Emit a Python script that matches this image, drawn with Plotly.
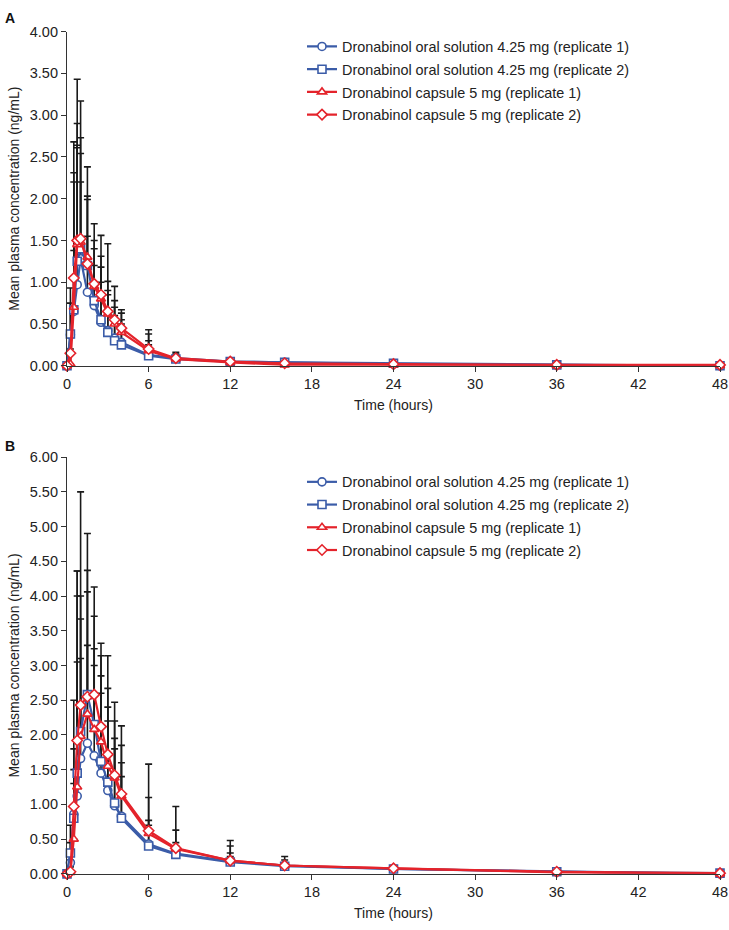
import plotly.graph_objects as go

time_h = [0, 0.25, 0.5, 0.75, 1, 1.5, 2, 2.5, 3, 3.5, 4, 6, 8, 12, 16, 24, 36, 48]
x_ticks = [0, 6, 12, 18, 24, 30, 36, 42, 48]

names = [
    "Dronabinol oral solution 4.25 mg (replicate 1)",
    "Dronabinol oral solution 4.25 mg (replicate 2)",
    "Dronabinol capsule 5 mg (replicate 1)",
    "Dronabinol capsule 5 mg (replicate 2)",
]

# Panel A (means and upper SD)
a_sol_rep1 = [0, 0.37, 0.65, 0.97, 1.28, 0.88, 0.72, 0.52, 0.42, 0.33, 0.28, 0.13, 0.09, 0.05, 0.04, 0.02, 0.01, 0.00]
a_sol_rep2 = [0, 0.38, 0.67, 1.25, 1.40, 1.20, 0.78, 0.55, 0.40, 0.30, 0.25, 0.12, 0.08, 0.05, 0.04, 0.03, 0.01, 0.00]
a_cap_rep1 = [0, 0.02, 0.70, 1.45, 1.48, 1.30, 0.95, 0.80, 0.62, 0.50, 0.40, 0.18, 0.08, 0.04, 0.01, 0.01, 0.00, 0.00]
a_cap_rep2 = [0, 0.15, 1.05, 1.50, 1.52, 1.22, 0.98, 0.85, 0.65, 0.55, 0.45, 0.20, 0.09, 0.05, 0.03, 0.02, 0.01, 0.01]

a_sd_sol_rep1 = [0, 0.03, 0.73, 1.64, 0.92, 0.67, 0.48, 0.48, 0.43, 0.27, 0.22, 0.12, 0.02, 0.01, 0.01, 0.01, 0.01, 0.01]
a_sd_sol_rep2 = [0, 0.37, 1.53, 1.39, 1.14, 0.79, 0.62, 0.63, 0.50, 0.40, 0.30, 0.18, 0.04, 0.02, 0.01, 0.01, 0.01, 0.01]
a_sd_cap_rep1 = [0, 0.18, 1.61, 1.45, 1.25, 0.73, 0.55, 0.51, 0.39, 0.28, 0.23, 0.20, 0.06, 0.03, 0.02, 0.02, 0.02, 0.01]
a_sd_cap_rep2 = [0, 0.78, 1.63, 1.93, 1.65, 1.16, 0.72, 0.71, 0.81, 0.40, 0.22, 0.23, 0.07, 0.03, 0.03, 0.02, 0.02, 0.01]

# Panel B (means and upper SD)
b_sol_rep1 = [0, 0.16, 0.86, 1.12, 1.66, 1.88, 1.70, 1.45, 1.20, 0.98, 0.83, 0.43, 0.29, 0.18, 0.12, 0.07, 0.03, 0.00]
b_sol_rep2 = [0, 0.30, 0.80, 1.45, 2.05, 2.58, 2.15, 1.62, 1.32, 1.02, 0.80, 0.40, 0.28, 0.17, 0.11, 0.07, 0.03, 0.01]
b_cap_rep1 = [0, 0.02, 0.50, 1.25, 1.98, 2.30, 2.08, 1.90, 1.55, 1.38, 1.12, 0.58, 0.36, 0.19, 0.12, 0.08, 0.02, 0.00]
b_cap_rep2 = [0, 0.03, 0.97, 1.92, 2.43, 2.55, 2.58, 2.12, 1.72, 1.42, 1.15, 0.62, 0.37, 0.19, 0.12, 0.08, 0.03, 0.01]

b_sd_sol_rep1 = [0, 0.29, 0.64, 1.93, 1.44, 1.41, 1.30, 1.15, 1.00, 0.82, 0.57, 0.27, 0.11, 0.07, 0.02, 0.01, 0.00, 0.01]
b_sd_sol_rep2 = [0, 0.40, 1.00, 2.55, 1.62, 1.48, 1.09, 1.23, 1.08, 0.93, 0.80, 0.37, 0.17, 0.13, 0.04, 0.03, 0.01, 0.01]
b_sd_cap_rep1 = [0, 0.08, 0.80, 3.11, 2.02, 2.07, 1.63, 1.24, 1.12, 0.82, 0.73, 0.52, 0.27, 0.21, 0.08, 0.02, 0.02, 0.01]
b_sd_cap_rep2 = [0, 0.17, 1.53, 2.44, 3.07, 2.35, 1.55, 1.20, 1.42, 1.05, 0.98, 0.96, 0.60, 0.29, 0.13, 0.04, 0.02, 0.01]

BLUE = "#3b5ca8"
RED = "#e4232b"
colors = [BLUE, BLUE, RED, RED]
symbols = ["circle", "square", "triangle-up", "diamond"]
FONT = "Arial, Liberation Sans, sans-serif"

W, H = 729, 930
L, R = 67, 9
PW = W - L - R
# pixel positions of axis extremes
A_top, A_bot = 24, 364
B_top, B_bot = 457, 881

fig = go.Figure()

panels = [
    ("x", "y", "legend", [a_sol_rep1, a_sol_rep2, a_cap_rep1, a_cap_rep2],
     [a_sd_sol_rep1, a_sd_sol_rep2, a_sd_cap_rep1, a_sd_cap_rep2]),
    ("x2", "y2", "legend2", [b_sol_rep1, b_sol_rep2, b_cap_rep1, b_cap_rep2],
     [b_sd_sol_rep1, b_sd_sol_rep2, b_sd_cap_rep1, b_sd_cap_rep2]),
]

for xa, ya, lg, means, sds in panels:
    # error bars first (drawn underneath)
    for m, sd in zip(means, sds):
        fig.add_trace(go.Scatter(
            x=time_h, y=m, xaxis=xa, yaxis=ya, mode="markers",
            marker=dict(size=1, opacity=0), showlegend=False, hoverinfo="skip",
            cliponaxis=False,
            error_y=dict(type="data", symmetric=False, array=sd,
                         arrayminus=[0] * len(sd), color="#1a1a1a",
                         thickness=1.6, width=3.5),
        ))
    for i, m in enumerate(means):
        fig.add_trace(go.Scatter(
            x=time_h, y=m, xaxis=xa, yaxis=ya, mode="lines+markers",
            name=names[i], legend=lg, legendgroup=f"{lg}{i}",
            line=dict(color=colors[i], width=2.2),
            marker=dict(symbol=symbols[i], size=8, color="white",
                        line=dict(color=colors[i], width=1.6)),
            cliponaxis=False,
        ))

def ydom(top, bot):
    return [1 - bot / H, 1 - top / H]

axis_common = dict(
    showline=True, linecolor="#333", linewidth=1.2, ticks="outside",
    ticklen=5, tickcolor="#333", tickwidth=1.2, showgrid=False, zeroline=False,
    tickfont=dict(family=FONT, size=14.5, color="#222"),
    ticklabeloverflow="allow",
)

LEG_X = 302

fig.update_layout(
    width=W, height=H,
    margin=dict(l=L, r=R, t=0, b=0),
    paper_bgcolor="white", plot_bgcolor="white",
    font=dict(family=FONT, size=13, color="#222"),
    xaxis=dict(domain=[0, 1], range=[0, 48], tickvals=x_ticks, anchor="y",
               title=dict(text="Time (hours)", font=dict(size=14), standoff=8),
               **axis_common),
    yaxis=dict(domain=ydom(A_top, A_bot), range=[0, 4], dtick=0.5,
               tickformat=".2f", anchor="x",
               title=dict(text="Mean plasma concentration (ng/mL)",
                          font=dict(size=14), standoff=6),
               **axis_common),
    xaxis2=dict(domain=[0, 1], range=[0, 48], tickvals=x_ticks, anchor="y2",
                title=dict(text="Time (hours)", font=dict(size=14), standoff=8),
                **axis_common),
    yaxis2=dict(domain=ydom(B_top, B_bot), range=[0, 6], dtick=0.5,
                tickformat=".2f", anchor="x2",
                title=dict(text="Mean plasma concentration (ng/mL)",
                           font=dict(size=14), standoff=6),
                **axis_common),
    legend=dict(x=(LEG_X - L) / PW, xanchor="left", y=1 - 23 / H, yanchor="top",
                bgcolor="rgba(0,0,0,0)", font=dict(size=14.4, family=FONT),
                tracegroupgap=1, itemwidth=30),
    legend2=dict(x=(LEG_X - L) / PW, xanchor="left", y=1 - 466 / H, yanchor="top",
                 bgcolor="rgba(0,0,0,0)", font=dict(size=14.4, family=FONT),
                 tracegroupgap=1, itemwidth=30),
    annotations=[
        dict(text="<b>A</b>", x=(3 - L) / PW, y=1.0, xref="paper", yref="paper",
             xanchor="left", yanchor="top", showarrow=False,
             font=dict(size=14, family=FONT, color="#111")),
        dict(text="<b>B</b>", x=(3 - L) / PW, y=1 - 436 / H, xref="paper", yref="paper",
             xanchor="left", yanchor="top", showarrow=False,
             font=dict(size=14, family=FONT, color="#111")),
    ],
)

fig.write_html(
    "out.html",
    config={"displayModeBar": False},
    post_script="document.body.style.margin='0px';document.body.style.overflow='hidden';",
)
